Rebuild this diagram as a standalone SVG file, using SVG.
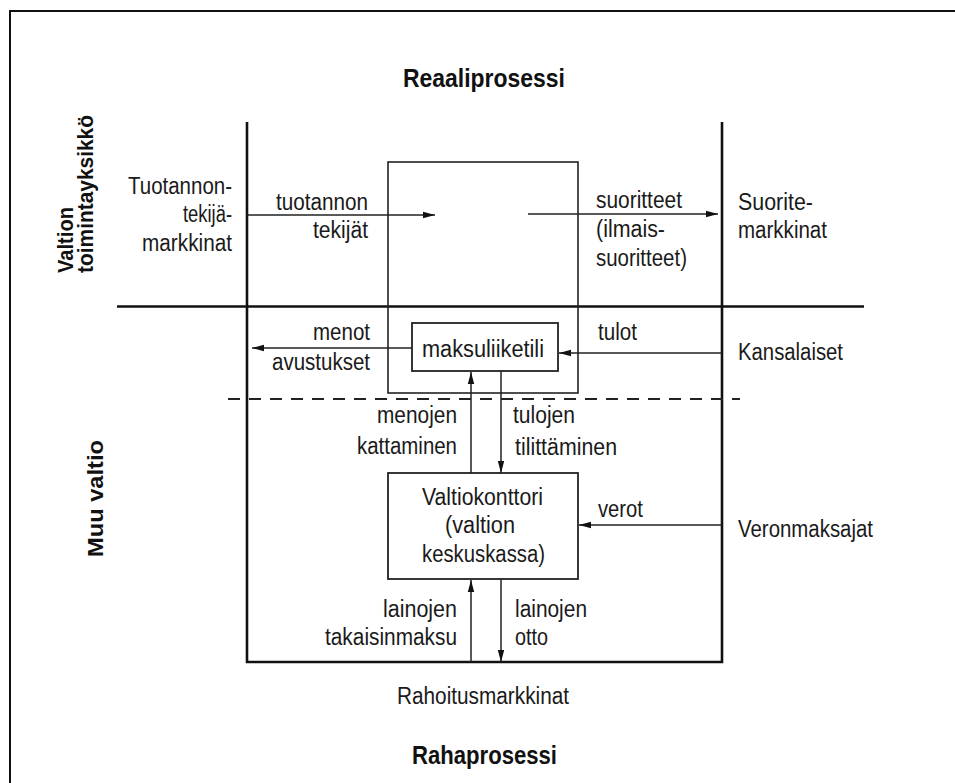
<svg xmlns="http://www.w3.org/2000/svg" width="955" height="783" viewBox="0 0 955 783">
  <style>
    .lbl { font-family: "Liberation Sans Narrow", "Liberation Sans", Arial, sans-serif; font-size: 23px; fill: #1a1a1a; }
    .ttl { font-family: "Liberation Sans Narrow", "Liberation Sans", Arial, sans-serif; font-size: 26px; font-weight: bold; fill: #111; }
    .side { font-family: "Liberation Sans Narrow", "Liberation Sans", Arial, sans-serif; font-size: 22px; font-weight: bold; fill: #111; }
    .frame { fill: none; stroke: #111; stroke-width: 2.6; }
    .thin { fill: none; stroke: #222; stroke-width: 1.6; }
    .box { fill: #fff; stroke: #222; stroke-width: 1.8; }
    .arrow { fill: none; stroke: #222; stroke-width: 1.5; marker-end: url(#head); }
    .dash { fill: none; stroke: #222; stroke-width: 2; stroke-dasharray: 12 9; }
  </style>
  <defs>
    <marker id="head" viewBox="0 0 12 8" refX="12" refY="4" markerWidth="12" markerHeight="8" markerUnits="userSpaceOnUse" orient="auto">
      <path d="M0,0.8 L12,4 L0,7.2 Z" fill="#111"/>
    </marker>
  </defs>

  <rect x="0" y="0" width="955" height="783" fill="#fff"/>
  <!-- page border -->
  <rect x="10" y="11" width="960" height="790" fill="none" stroke="#111" stroke-width="2"/>

  <!-- titles -->
  <text class="ttl" x="403" y="87" textLength="162" lengthAdjust="spacingAndGlyphs">Reaaliprosessi</text>
  <text class="ttl" x="412" y="764" textLength="145" lengthAdjust="spacingAndGlyphs">Rahaprosessi</text>
  <text class="side" transform="translate(73,273) rotate(-90)" textLength="66" lengthAdjust="spacingAndGlyphs">Valtion</text>
  <text class="side" transform="translate(93,273) rotate(-90)" textLength="158" lengthAdjust="spacingAndGlyphs">toimintayksikkö</text>
  <text class="side" transform="translate(103,557) rotate(-90)" textLength="117" lengthAdjust="spacingAndGlyphs">Muu valtio</text>

  <!-- frame lines -->
  <g id="frame">
    <path class="frame" d="M247,122 V662 H722 V122"/>
    <line class="frame" x1="117" y1="306.5" x2="864" y2="306.5" stroke-width="2.2"/>
    <line class="dash" x1="228" y1="399" x2="740" y2="399"/>
    <rect class="thin" x="388" y="162" width="190" height="231"/>
  </g>

  <!-- connectors -->
  <g id="connectors">
    <line class="arrow" x1="247" y1="215" x2="435" y2="215"/>
    <line class="arrow" x1="528" y1="214" x2="718" y2="214"/>
    <line class="arrow" x1="412" y1="348" x2="252" y2="348"/>
    <line class="arrow" x1="722" y1="353" x2="559" y2="353"/>
    <line class="arrow" x1="471" y1="473" x2="471" y2="372"/>
    <line class="arrow" x1="501" y1="371" x2="501" y2="473"/>
    <line class="arrow" x1="722" y1="525" x2="579" y2="525"/>
    <line class="arrow" x1="471" y1="662" x2="471" y2="580"/>
    <line class="arrow" x1="501" y1="579" x2="501" y2="662"/>
  </g>

  <!-- nodes -->
  <g id="maksuliiketili">
    <rect class="box" x="412" y="323" width="146" height="48"/>
    <text class="lbl" x="422" y="357" textLength="122" lengthAdjust="spacingAndGlyphs">maksuliiketili</text>
  </g>
  <g id="valtiokonttori">
    <rect class="box" x="388" y="473" width="190" height="106"/>
    <text class="lbl" x="422" y="505" textLength="121" lengthAdjust="spacingAndGlyphs">Valtiokonttori</text>
    <text class="lbl" x="445" y="533" textLength="70" lengthAdjust="spacingAndGlyphs">(valtion</text>
    <text class="lbl" x="422" y="562" textLength="123" lengthAdjust="spacingAndGlyphs">keskuskassa)</text>
  </g>
  <g id="tuotannontekijamarkkinat">
    <text class="lbl" x="128" y="194" textLength="104" lengthAdjust="spacingAndGlyphs">Tuotannon-</text>
    <text class="lbl" x="183" y="222" textLength="49" lengthAdjust="spacingAndGlyphs">tekijä-</text>
    <text class="lbl" x="142" y="251" textLength="90" lengthAdjust="spacingAndGlyphs">markkinat</text>
  </g>
  <g id="suoritemarkkinat">
    <text class="lbl" x="738" y="210" textLength="75" lengthAdjust="spacingAndGlyphs">Suorite-</text>
    <text class="lbl" x="738" y="238" textLength="89" lengthAdjust="spacingAndGlyphs">markkinat</text>
  </g>
  <g id="kansalaiset">
    <text class="lbl" x="738" y="360" textLength="105" lengthAdjust="spacingAndGlyphs">Kansalaiset</text>
  </g>
  <g id="veronmaksajat">
    <text class="lbl" x="738" y="537" textLength="135" lengthAdjust="spacingAndGlyphs">Veronmaksajat</text>
  </g>
  <g id="rahoitusmarkkinat">
    <text class="lbl" x="397" y="704" textLength="172" lengthAdjust="spacingAndGlyphs">Rahoitusmarkkinat</text>
  </g>

  <!-- connector labels -->
  <g id="labels">
    <text class="lbl" x="276" y="210" textLength="92" lengthAdjust="spacingAndGlyphs">tuotannon</text>
    <text class="lbl" x="313" y="238" textLength="55" lengthAdjust="spacingAndGlyphs">tekijät</text>
    <text class="lbl" x="596" y="208" textLength="86" lengthAdjust="spacingAndGlyphs">suoritteet</text>
    <text class="lbl" x="596" y="237" textLength="69" lengthAdjust="spacingAndGlyphs">(ilmais-</text>
    <text class="lbl" x="596" y="266" textLength="91" lengthAdjust="spacingAndGlyphs">suoritteet)</text>
    <text class="lbl" x="313" y="340" textLength="57" lengthAdjust="spacingAndGlyphs">menot</text>
    <text class="lbl" x="272" y="370" textLength="98" lengthAdjust="spacingAndGlyphs">avustukset</text>
    <text class="lbl" x="598" y="340" textLength="39" lengthAdjust="spacingAndGlyphs">tulot</text>
    <text class="lbl" x="377" y="423" textLength="80" lengthAdjust="spacingAndGlyphs">menojen</text>
    <text class="lbl" x="357" y="454" textLength="100" lengthAdjust="spacingAndGlyphs">kattaminen</text>
    <text class="lbl" x="513" y="423" textLength="62" lengthAdjust="spacingAndGlyphs">tulojen</text>
    <text class="lbl" x="515" y="455" textLength="102" lengthAdjust="spacingAndGlyphs">tilittäminen</text>
    <text class="lbl" x="598" y="517" textLength="45" lengthAdjust="spacingAndGlyphs">verot</text>
    <text class="lbl" x="383" y="617" textLength="74" lengthAdjust="spacingAndGlyphs">lainojen</text>
    <text class="lbl" x="325" y="645" textLength="132" lengthAdjust="spacingAndGlyphs">takaisinmaksu</text>
    <text class="lbl" x="515" y="617" textLength="72" lengthAdjust="spacingAndGlyphs">lainojen</text>
    <text class="lbl" x="515" y="645" textLength="33" lengthAdjust="spacingAndGlyphs">otto</text>
  </g>
</svg>
